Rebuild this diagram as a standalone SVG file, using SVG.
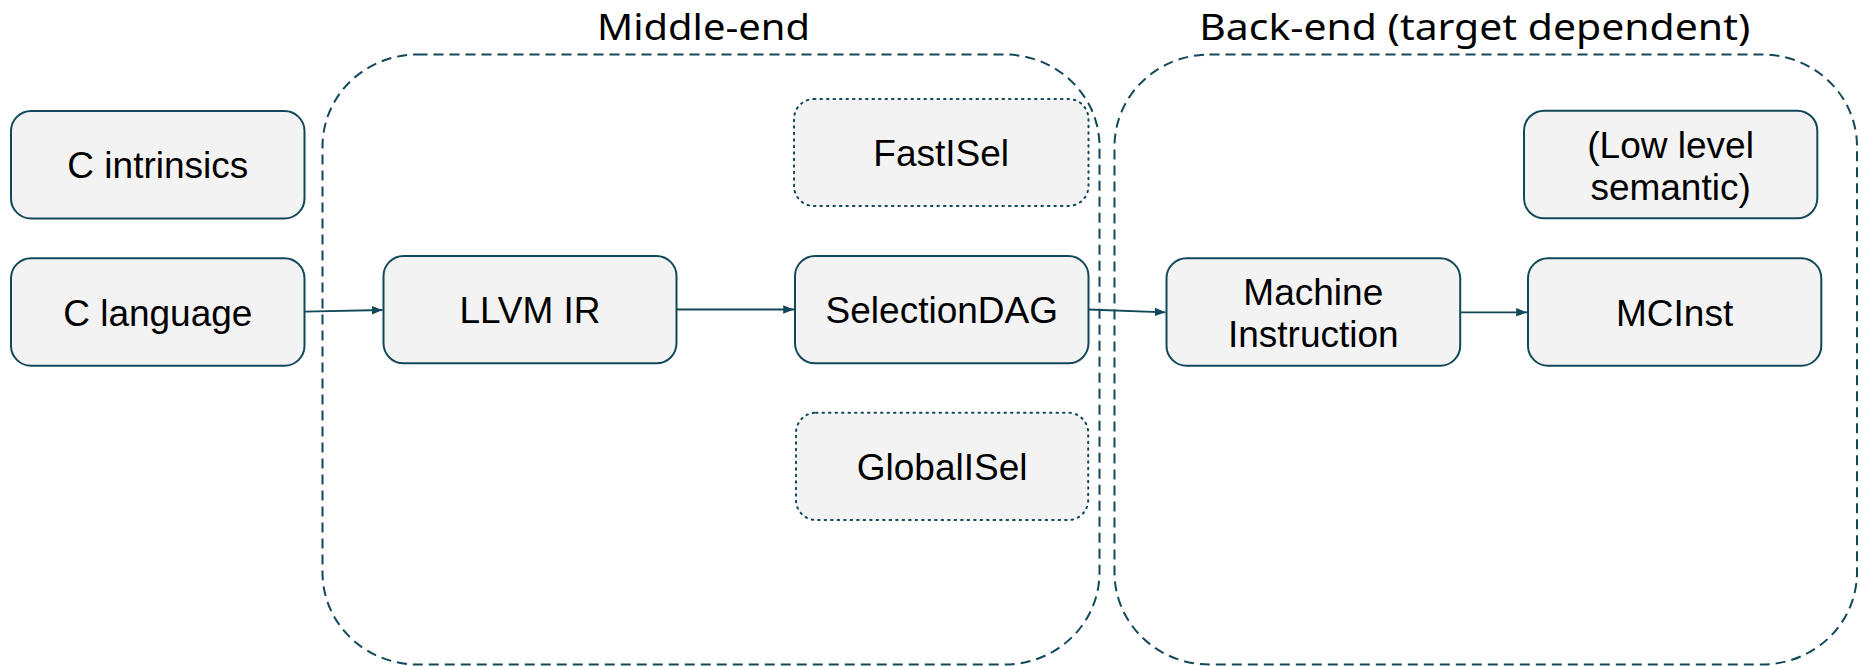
<svg xmlns="http://www.w3.org/2000/svg" width="1860" height="666" viewBox="0 0 1860 666">
<defs>
<style>
.grp{fill:none;stroke:#12495a;stroke-width:2;stroke-dasharray:10 6}
.node{fill:#f3f3f3;stroke:#12495a;stroke-width:2}
.dot{fill:#f3f3f3;stroke:#12495a;stroke-width:2;stroke-dasharray:1.5 5;stroke-linecap:round}
.lbl{font-family:"Liberation Sans",Arial,sans-serif;font-size:37px;fill:#000;text-anchor:middle}
.title{font-family:"Noto Sans",sans-serif;font-size:36px;fill:#000;text-anchor:middle}
.edge{fill:none;stroke:#12495a;stroke-width:1.8}
</style>
<marker id="arr" viewBox="0 0 10 10" refX="10" refY="5" markerWidth="6" markerHeight="6" markerUnits="strokeWidth" orient="auto">
<path d="M0,1 L10,5 L0,9 z" fill="#12495a"/>
</marker>
</defs>
<rect width="1860" height="666" fill="#fff"/>
<g id="middle-end">
<rect class="grp" x="322.5" y="54.5" width="777" height="610" rx="95" ry="92"/>
<text class="title" x="703.5" y="39.5" textLength="213" lengthAdjust="spacingAndGlyphs">Middle-end</text>
</g>
<g id="back-end">
<rect class="grp" x="1114.5" y="54.5" width="742.5" height="610" rx="95" ry="92"/>
<text class="title" x="1474.7" y="39.5" textLength="551" lengthAdjust="spacingAndGlyphs">Back-end (target dependent)</text>
</g>
<g id="c-intrinsics">
<rect class="node" x="11" y="111" width="293.5" height="107.5" rx="20"/>
<text class="lbl" x="157.8" y="178">C intrinsics</text>
</g>
<g id="c-language">
<rect class="node" x="11" y="258.3" width="293.5" height="107.4" rx="20"/>
<text class="lbl" x="157.8" y="325.5">C language</text>
</g>
<g id="llvm-ir">
<rect class="node" x="383.5" y="256" width="293" height="107.3" rx="20"/>
<text class="lbl" x="530" y="323">LLVM IR</text>
</g>
<g id="fastisel">
<rect class="dot" x="794" y="99" width="294.5" height="107" rx="20"/>
<text class="lbl" x="941.2" y="166">FastISel</text>
</g>
<g id="selectiondag">
<rect class="node" x="795" y="256" width="293.5" height="107.3" rx="20"/>
<text class="lbl" x="941.8" y="323">SelectionDAG</text>
</g>
<g id="globalisel">
<rect class="dot" x="796" y="412.7" width="292.2" height="107.3" rx="20"/>
<text class="lbl" x="942.1" y="480">GlobalISel</text>
</g>
<g id="machine-instruction">
<rect class="node" x="1166.5" y="258.3" width="293.7" height="107.4" rx="20"/>
<text class="lbl" x="1313.3" y="305">Machine</text>
<text class="lbl" x="1313.3" y="347">Instruction</text>
</g>
<g id="low-level-semantic">
<rect class="node" x="1524" y="110.7" width="293.3" height="107.6" rx="20"/>
<text class="lbl" x="1670.6" y="158">(Low level</text>
<text class="lbl" x="1670.6" y="199.5">semantic)</text>
</g>
<g id="mcinst">
<rect class="node" x="1528" y="258.3" width="293.3" height="107.4" rx="20"/>
<text class="lbl" x="1674.6" y="325.5">MCInst</text>
</g>
<g id="connectors">
<line class="edge" x1="304.5" y1="311.7" x2="382.5" y2="310" marker-end="url(#arr)"/>
<line class="edge" x1="676.5" y1="309.5" x2="794" y2="309.5" marker-end="url(#arr)"/>
<line class="edge" x1="1088.5" y1="309.5" x2="1165.5" y2="312.3" marker-end="url(#arr)"/>
<line class="edge" x1="1460.2" y1="312.3" x2="1527" y2="312.3" marker-end="url(#arr)"/>
</g>
</svg>
